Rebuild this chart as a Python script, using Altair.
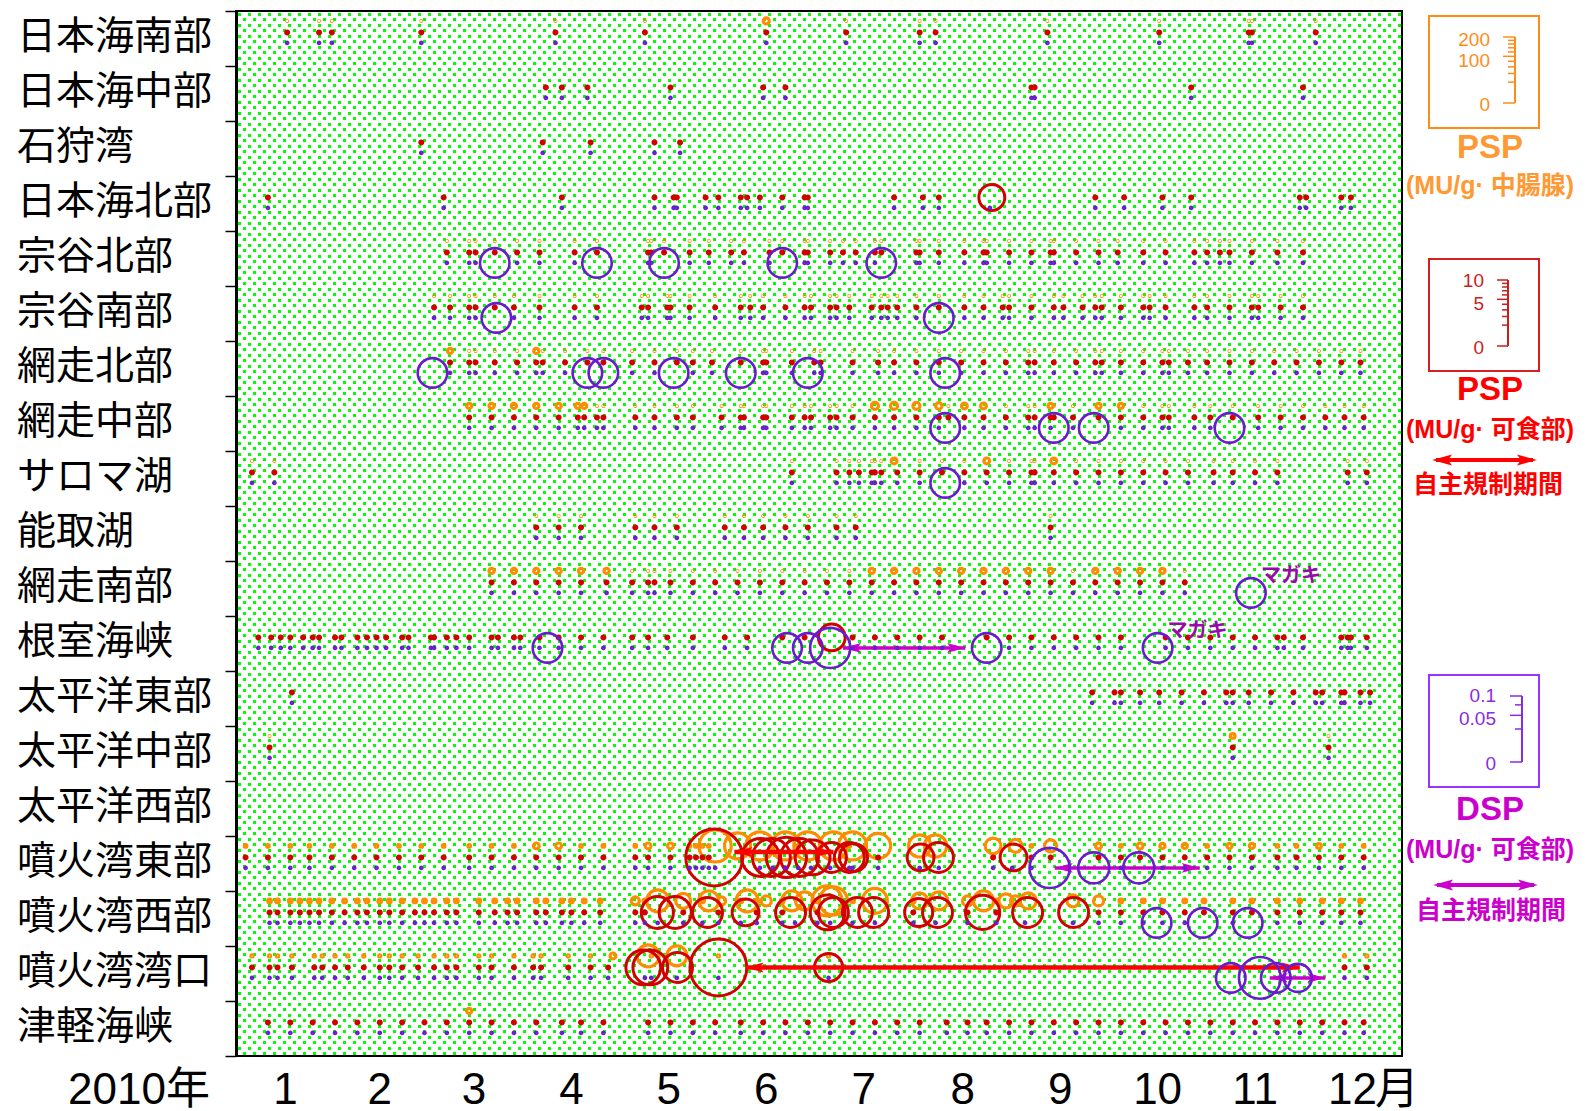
import altair as alt
import numpy as np
import pandas as pd

W, H = 1166, 1045

ROWS = ["日本海南部", "日本海中部", "石狩湾", "日本海北部", "宗谷北部", "宗谷南部",
        "網走北部", "網走中部", "サロマ湖", "能取湖", "網走南部", "根室海峡",
        "太平洋東部", "太平洋中部", "太平洋西部", "噴火湾東部", "噴火湾西部",
        "噴火湾湾口", "津軽海峡"]

MONTH_STARTS = [0, 31, 59, 90, 120, 151, 181, 212, 243, 273, 304, 334, 365]
MONTH_MIDS = [15.5, 45, 74.5, 105, 135.5, 166, 196.5, 227.5, 258, 288.5, 319, 349.5]
MONTH_LABELS = ["1", "2", "3", "4", "5", "6", "7", "8", "9", "10", "11", "12"]

# sampling days (day of year) per area row
SAMPLE_DAYS = {
    0: [16, 26, 30, 58, 100, 128, 166, 191, 214, 219, 254, 289, 317, 318, 338],
    1: [97, 102, 110, 136, 165, 172, 249, 250, 299, 334],
    2: [58, 96, 111, 131, 139],
    3: [10, 65, 102, 131, 137, 138, 147, 151, 158, 160, 164, 171, 178, 179, 206, 215, 220,
        236, 269, 278, 290, 299, 333, 335, 346, 349],
    4: [66, 73, 75, 81, 88, 95, 106, 113, 129, 130, 134, 142, 148, 155, 159, 167, 171, 178,
        179, 186, 190, 194, 200, 202, 213, 214, 220, 228, 234, 235, 242, 249, 255, 256, 263,
        270, 276, 284, 291, 300, 304, 308, 311, 318, 326, 334],
    5: [62, 67, 73, 75, 81, 87, 95, 106, 113, 127, 129, 135, 136, 142, 150, 158, 161, 165,
        172, 178, 180, 186, 188, 192, 199, 202, 204, 207, 213, 220, 228, 234, 240, 242, 249,
        256, 259, 265, 269, 271, 277, 284, 286, 291, 300, 304, 311, 318, 320, 327, 334],
    6: [67, 73, 75, 81, 88, 94, 96, 103, 110, 115, 124, 131, 138, 143, 149, 158, 165, 166,
        174, 181, 183, 193, 201, 206, 213, 220, 227, 234, 241, 248, 250, 256, 263, 269, 271,
        277, 284, 290, 292, 298, 304, 311, 318, 325, 332, 339, 346, 352],
    7: [73, 80, 87, 94, 101, 107, 109, 113, 115, 125, 131, 138, 143, 152, 158, 159, 165, 166,
        174, 178, 180, 186, 188, 193, 200, 206, 213, 220, 223, 228, 234, 241, 248, 250, 255,
        256, 262, 270, 277, 284, 290, 292, 300, 305, 312, 320, 327, 334, 341, 347, 353],
    8: [5, 12, 174, 188, 192, 195, 199, 200, 202, 207, 214, 221, 228, 235, 242, 249, 250, 256,
        263, 270, 277, 284, 291, 298, 306, 312, 319, 326, 348, 354],
    9: [94, 101, 108, 125, 131, 138, 153, 159, 165, 172, 179, 188, 194, 255],
    10: [80, 87, 94, 101, 108, 116, 124, 129, 131, 136, 143, 150, 157, 164, 171, 178, 185,
         192, 199, 206, 213, 220, 227, 234, 241, 248, 255, 262, 269, 276, 283, 290, 297],
    11: [7, 11, 14, 17, 21, 24, 26, 31, 33, 38, 41, 44, 47, 52, 54, 61, 62, 66, 69, 73, 80, 82,
         87, 89, 95, 101, 108, 115, 124, 129, 135, 143, 153, 160, 171, 178, 186, 193, 200, 207,
         214, 221, 235, 242, 249, 256, 263, 270, 277, 291, 298, 305, 312, 319, 326, 328, 334,
         346, 348, 349, 354],
    12: [17.5, 268, 275, 277, 283, 289, 296, 303, 310, 312, 317, 324, 331, 338, 340, 346, 347,
         352, 355],
    13: [10.5, 312, 342],
    14: [],
    15: [3, 10, 17, 23, 30, 37, 44, 51, 58, 65, 73, 80, 87, 94, 101, 108, 115, 125, 129, 136,
         142, 144, 146, 148, 150, 164, 168, 172, 176, 180, 186, 192, 193, 201, 214, 220, 237,
         243, 249, 255, 270, 277, 283, 290, 297, 304, 311, 318, 326, 332, 339, 346, 353],
    16: [10.5, 13, 17, 20, 23, 26, 30, 34, 38, 41, 45, 48, 52, 56, 59, 62, 66, 69, 76, 81, 85,
         88, 94, 97, 102, 105, 109, 114, 125, 128, 132, 140, 146, 151, 158, 163, 171, 175, 182,
         186, 193, 200, 212, 219, 229, 238, 247, 262, 270, 277, 284, 290, 297, 303, 312, 318,
         326, 333, 340, 346, 352],
    17: [5, 10.5, 13, 17.5, 24.5, 27, 31, 35, 40, 45, 48, 52, 57, 62, 66, 69, 76, 80, 87, 93,
         95.5, 104, 111, 116.5, 128, 130, 138, 151, 185.5, 347, 354],
    18: [10, 17, 24, 31, 38, 45, 52, 59, 66, 73, 80, 87, 94, 102, 108, 115, 129, 136, 143, 150,
         158, 165, 172, 179, 186, 193, 200, 207, 214, 222.5, 229, 235, 242, 249, 256, 263, 270,
         277, 284, 291, 298, 305, 312, 319, 326, 333, 340, 347, 353],
}

# small "below-scale" readings per row (MU/g)
ORANGE_BASE = {0: 0.03, 4: 0.03, 5: 0.03, 6: 0.03, 7: 0.03, 8: 0.03, 9: 0.03, 10: 0.03,
               13: 0.03, 15: 0.3, 16: 0.6, 17: 0.2}
RED_BASE = 0.02
PURPLE_BASE = 0.0001

# notable readings (row, day, value)
PSP_GLAND = [
    (0, 166, 1.6), (6, 67, 1.2), (6, 94, 1.2),
    (7, 73, 1.2), (7, 80, 1.2), (7, 87, 1.2), (7, 94, 1.2), (7, 101, 1.2), (7, 107, 1.2),
    (7, 109, 1.2), (7, 200, 2.2), (7, 206, 2.2), (7, 213, 2.2), (7, 220, 1.8), (7, 228, 1.5),
    (7, 234, 1.5), (7, 255, 1.2), (7, 270, 1.2), (7, 277, 1.2),
    (8, 206, 1.5), (8, 235, 1.5), (8, 256, 1.5),
    (10, 80, 1.2), (10, 87, 1.2), (10, 94, 1.2), (10, 101, 1.2), (10, 108, 1.2), (10, 116, 1.2),
    (10, 199, 1.2), (10, 206, 1.2), (10, 213, 1.2), (10, 220, 1.2), (10, 227, 1.2),
    (10, 234, 1.2), (10, 241, 1.2), (10, 248, 1.2), (10, 255, 1.2), (10, 269, 1.2),
    (10, 276, 1.2), (10, 283, 1.2), (10, 290, 1.2),
    (13, 312, 1.0), (18, 73, 1.2),
    (15, 94, 1.5), (15, 101, 1.5), (15, 129, 1.5), (15, 136, 1.5), (15, 150, 46),
    (15, 157, 30), (15, 164, 35), (15, 172, 35), (15, 179, 35), (15, 187, 35), (15, 193, 35),
    (15, 201, 28), (15, 214, 22), (15, 219, 22), (15, 237, 11), (15, 244, 7.5), (15, 255, 6.4),
    (15, 270, 1.6), (15, 283, 1.6), (15, 290, 1.2), (15, 297, 1.2), (15, 311, 1.2),
    (15, 318, 1.2), (15, 339, 1.0),
    (16, 125, 2.9), (16, 132, 21.6), (16, 140, 10), (16, 148, 17.8), (16, 152, 2.9),
    (16, 160, 21.6), (16, 166, 4.5), (16, 174, 17.8), (16, 178, 14.4), (16, 185, 40),
    (16, 187, 35), (16, 200, 27.8), (16, 214, 11.4), (16, 220, 14.4), (16, 229, 4.5),
    (16, 234, 17.8), (16, 241, 8.7), (16, 244, 4.5), (16, 248, 11.4), (16, 262, 6.4),
    (16, 270, 4.5),
    (17, 118, 1.5), (17, 129, 21.6), (17, 138, 17.8),
]
PSP_EDIBLE = [
    (3, 236.6, 1.5), (11, 186.5, 1.6),
    (15, 149.7, 7.2), (15, 164.2, 3.2), (15, 167.6, 3.2), (15, 172.3, 3.6), (15, 176.4, 3.2),
    (15, 180.5, 2.7), (15, 186.4, 2.0), (15, 192, 2.0), (15, 193.3, 1.75), (15, 214.3, 1.6),
    (15, 219.9, 2.0), (15, 243.4, 1.6),
    (16, 131.9, 2.3), (16, 137.5, 2.3), (16, 147.6, 2.0), (16, 159.5, 1.6), (16, 173.6, 2.0),
    (16, 185.2, 2.7), (16, 187, 2.0), (16, 194.5, 2.0), (16, 199.6, 2.0), (16, 213.7, 1.75),
    (16, 219.6, 2.0), (16, 233.7, 2.6), (16, 247.8, 2.0), (16, 262.2, 2.0),
    (17, 127.5, 2.7), (17, 129.7, 2.7), (17, 138.2, 2.0), (17, 151, 7.2), (17, 185.5, 1.75),
]
DSP = [
    (4, 81, 0.02), (4, 113, 0.02), (4, 134, 0.02), (4, 171, 0.02), (4, 202, 0.02),
    (5, 81.5, 0.02), (5, 220, 0.02),
    (6, 61.5, 0.02), (6, 110, 0.02), (6, 115, 0.02), (6, 137, 0.02), (6, 158, 0.02),
    (6, 179, 0.02), (6, 222, 0.02),
    (7, 222, 0.02), (7, 256, 0.02), (7, 268.5, 0.02), (7, 311, 0.02),
    (8, 222, 0.02), (10, 317.7, 0.02),
    (11, 97.5, 0.02), (11, 172.5, 0.02), (11, 179, 0.02), (11, 186, 0.037), (11, 235, 0.02),
    (11, 288.5, 0.02),
    (15, 254.7, 0.037), (15, 268.5, 0.022), (15, 282.6, 0.022),
    (16, 288.2, 0.02), (16, 302.6, 0.02), (16, 316.7, 0.02),
    (17, 311.4, 0.02), (17, 320.5, 0.04), (17, 325.5, 0.02), (17, 332.4, 0.018),
]

# regulation periods
ARROW_ROW = [11, 15, 15, 17, 17]
ARROW_LEVEL = [0.58, 0.58, 0.29, 0.39, 0.58]
ARROW_START = [190, 256.3, 156, 159.5, 323.6]
ARROW_END = [228.3, 301.7, 187, 333, 341]
ARROW_KIND = ["DSP", "DSP", "PSP", "PSP", "DSP"]

MAGAKI_ROW = [10, 11]
MAGAKI_DAY = [317.7, 288.5]

ORANGE, RED, PURPLE = "#FF8C00", "#D40000", "#6A1ACF"
ARROW_RED, MAGENTA = "#FF0000", "#CC00CC"
Y_ORANGE, Y_RED, Y_PURPLE = 0.18, 0.39, 0.58


def build(base_fn, notable, yoff):
    recs = []
    for r, days in SAMPLE_DAYS.items():
        b = base_fn(r)
        if b is None:
            continue
        for d in days:
            recs.append({"row": r, "day": float(d), "v": b, "used": False})
    for r, d, v in notable:
        best = None
        for rec in recs:
            if rec["row"] == r and not rec["used"] and abs(rec["day"] - d) <= 1.6:
                if best is None or abs(rec["day"] - d) < abs(best["day"] - d):
                    best = rec
        if best is not None:
            best["day"], best["v"], best["used"] = float(d), v, True
        else:
            recs.append({"row": r, "day": float(d), "v": v, "used": True})
    df = pd.DataFrame(recs)
    df["y"] = df["row"] + yoff
    return df.drop(columns=["used"]).sort_values("v", ascending=False)


df_or = build(lambda r: ORANGE_BASE.get(r), PSP_GLAND, Y_ORANGE)
df_red = build(lambda r: RED_BASE, PSP_EDIBLE, Y_RED)
df_pu = build(lambda r: PURPLE_BASE, DSP, Y_PURPLE)

xs = alt.Scale(domain=[0, 365], nice=False, zero=False)
ys = alt.Scale(domain=[0, 19], reverse=True, nice=False, zero=False)

x_axis = alt.Axis(values=MONTH_STARTS, labels=False, ticks=True, tickSize=12, tickColor="black",
                  tickWidth=1.5, domainColor="black", domainWidth=3, grid=True,
                  gridColor="black", gridDash=[4, 7], gridWidth=1.3, title=None)
y_axis = alt.Axis(values=list(range(20)), labels=False, tickSize=11, tickColor="black",
                  tickWidth=1.5, domainColor="black", domainWidth=3, grid=False, title=None)

# dotted green background texture (pixel columns every 5px, pixel-aligned)
tex_px = np.arange(3.5, W, 5)
tex = pd.DataFrame({"d": tex_px * 365.0 / W, "k": np.arange(len(tex_px)) % 2})
tex_a = alt.Chart(tex).transform_filter("datum.k == 0").mark_rule(
    color="#00ff00", strokeWidth=3, strokeDash=[3, 8], strokeDashOffset=9
).encode(x=alt.X("d:Q", scale=xs, axis=x_axis), y=alt.value(0), y2=alt.value(H))
tex_b = alt.Chart(tex).transform_filter("datum.k == 1").mark_rule(
    color="#00ff00", strokeWidth=3, strokeDash=[3, 8], strokeDashOffset=4
).encode(x=alt.X("d:Q", scale=xs, axis=None), y=alt.value(0), y2=alt.value(H))


def circles(df, color, sw, vmax, dmax, axis=None):
    return alt.Chart(df).mark_point(shape="circle", filled=False, color=color,
                                    strokeWidth=sw, opacity=1).encode(
        x=alt.X("day:Q", scale=xs, axis=None),
        y=alt.Y("y:Q", scale=ys, axis=axis),
        size=alt.Size("v:Q", scale=alt.Scale(domain=[0, vmax], range=[0, dmax * dmax]),
                      legend=None),
    )


c_or = circles(df_or, ORANGE, 3.2, 200, 67)
c_red = circles(df_red, RED, 3, 10, 67, axis=y_axis)
c_pu = circles(df_pu, PURPLE, 2.6, 0.1, 66)

LEFT_HEAD = "M0,0 L2,-0.55 L1.6,0 L2,0.55 Z"
RIGHT_HEAD = "M0,0 L-2,-0.55 L-1.6,0 L-2,0.55 Z"

arr = pd.DataFrame({"y": np.array(ARROW_ROW) + np.array(ARROW_LEVEL),
                    "s": ARROW_START, "e": ARROW_END,
                    "col": [ARROW_RED if k == "PSP" else MAGENTA for k in ARROW_KIND],
                    "w": [4.5 if k == "PSP" else 3.5 for k in ARROW_KIND]})
arr_line = alt.Chart(arr).mark_rule().encode(
    x=alt.X("s:Q", scale=xs, axis=None), x2="e:Q", y=alt.Y("y:Q", scale=ys, axis=None),
    color=alt.Color("col:N", scale=None), strokeWidth=alt.StrokeWidth("w:Q", scale=None))
arr_l = alt.Chart(arr).mark_point(shape=LEFT_HEAD, filled=True, size=324, opacity=1).encode(
    x=alt.X("s:Q", scale=xs, axis=None), y=alt.Y("y:Q", scale=ys, axis=None),
    color=alt.Color("col:N", scale=None))
arr_r = alt.Chart(arr).mark_point(shape=RIGHT_HEAD, filled=True, size=324, opacity=1).encode(
    x=alt.X("e:Q", scale=xs, axis=None), y=alt.Y("y:Q", scale=ys, axis=None),
    color=alt.Color("col:N", scale=None))

rows_df = pd.DataFrame({"name": ROWS, "yc": np.arange(len(ROWS)) + 0.5})
row_labels = alt.Chart(rows_df).mark_text(
    align="left", baseline="middle", fontSize=39, font="Noto Sans CJK JP", color="black", dy=-2
).encode(x=alt.value(-219), y=alt.Y("yc:Q", scale=ys, axis=None), text="name:N")

mon_df = pd.DataFrame({"mid": MONTH_MIDS, "lab": MONTH_LABELS})
LATIN = "Liberation Sans, Arial, Noto Sans CJK JP"
month_labels = alt.Chart(mon_df).mark_text(
    fontSize=44, font=LATIN, baseline="middle", color="black"
).encode(x=alt.X("mid:Q", scale=xs, axis=None), y=alt.value(H + 35), text="lab:N")

mg_df = pd.DataFrame({"day": MAGAKI_DAY, "y": np.array(MAGAKI_ROW) + Y_PURPLE})
magaki = alt.Chart(mg_df).mark_text(
    text="マガキ", fontSize=20, fontWeight="bold", font="Noto Sans CJK JP", color="#9A0AA8",
    dx=40, dy=-17
).encode(x=alt.X("day:Q", scale=xs, axis=None), y=alt.Y("y:Q", scale=ys, axis=None))

ONE = pd.DataFrame({"k": [0]})


def txt(t, x, y, size, color, bold=True, font=LATIN, align="center"):
    return alt.Chart(ONE).mark_text(
        text=t, fontSize=size, color=color, fontWeight="bold" if bold else "normal",
        font=font, align=align, baseline="middle"
    ).encode(x=alt.value(x), y=alt.value(y))


def box(x0, x1, y0, y1, color):
    return alt.Chart(ONE).mark_rect(fillOpacity=0, stroke=color, strokeWidth=2).encode(
        x=alt.value(x0), x2=alt.value(x1), y=alt.value(y0), y2=alt.value(y1))


def legend_arrow(x0, x1, y, color):
    return [
        alt.Chart(ONE).mark_rule(color=color, strokeWidth=4).encode(
            x=alt.value(x0 + 4), x2=alt.value(x1 - 4), y=alt.value(y)),
        alt.Chart(ONE).mark_point(shape=LEFT_HEAD, filled=True, size=400, color=color,
                                  opacity=1).encode(x=alt.value(x0), y=alt.value(y)),
        alt.Chart(ONE).mark_point(shape=RIGHT_HEAD, filled=True, size=400, color=color,
                                  opacity=1).encode(x=alt.value(x1), y=alt.value(y)),
    ]


def ruler(vmax, y0, y1, x_line, maj_len, min_len, color, majors, minors, labels, x_lab, dys):
    sc = alt.Scale(type="sqrt", domain=[0, vmax], range=[y0, y1], nice=False)
    line = alt.Chart(pd.DataFrame({"lo": [0], "hi": [vmax]})).mark_rule(
        color=color, strokeWidth=2).encode(
        x=alt.value(x_line), y=alt.Y("lo:Q", scale=sc, axis=None), y2="hi:Q")
    maj = alt.Chart(pd.DataFrame({"t": majors})).mark_rule(color=color, strokeWidth=1.5).encode(
        x=alt.value(x_line - maj_len), x2=alt.value(x_line),
        y=alt.Y("t:Q", scale=sc, axis=None))
    mnr = alt.Chart(pd.DataFrame({"t": minors})).mark_rule(color=color, strokeWidth=1.5).encode(
        x=alt.value(x_line - min_len), x2=alt.value(x_line),
        y=alt.Y("t:Q", scale=sc, axis=None))
    labs = []
    for t, lab, dy in zip(majors, labels, dys):
        labs.append(alt.Chart(pd.DataFrame({"t": [t], "lab": [lab]})).mark_text(
            align="right", baseline="middle", fontSize=19, font=LATIN, color=color, dy=dy
        ).encode(x=alt.value(x_lab), y=alt.Y("t:Q", scale=sc, axis=None), text="lab:N"))
    return [line, maj, mnr] + labs


OR_TXT, RED_TXT = "#FF9933", "#FF0000"
legend = []
legend += [box(1193, 1303, 5, 117, "#FF8C1A")]
legend += ruler(200, 92, 26, 1279, 12, 7, "#FF8C1A", [0, 100, 200],
                [20, 40, 60, 80, 120, 140, 160, 180], ["0", "100", "200"], 1254, [2, 5, 3])
legend += [txt("PSP", 1254, 137, 33, OR_TXT), txt("(MU/g· 中腸腺)", 1254, 175, 25, OR_TXT)]
legend += [box(1193, 1303, 248, 360, "#D42020")]
legend += ruler(10, 335, 269, 1272, 11, 6, "#C81E1E", [0, 5, 10],
                [1, 2, 3, 4, 6, 7, 8, 9], ["0", "5", "10"], 1248, [2, 5, 1])
legend += [txt("PSP", 1254, 379, 33, RED_TXT), txt("(MU/g· 可食部)", 1254, 419, 25, RED_TXT)]
legend += legend_arrow(1196, 1301, 449, RED_TXT)
legend += [txt("自主規制期間", 1252, 474, 25, RED_TXT)]
legend += [box(1193, 1303, 664, 776, "#9933FF")]
legend += ruler(0.1, 751, 685, 1286, 12, 7, "#8A2BE2", [0, 0.05, 0.1], [0.025, 0.075],
                ["0", "0.05", "0.1"], 1260, [2, 4, 0])
legend += [txt("DSP", 1254, 799, 33, MAGENTA), txt("(MU/g· 可食部)", 1254, 839, 25, MAGENTA)]
legend += legend_arrow(1197, 1302, 874, MAGENTA)
legend += [txt("自主規制期間", 1255, 900, 25, MAGENTA)]

extra = [txt("2010年", -97, H + 35, 44, "black", bold=False),
         txt("月", 1161, H + 35, 44, "black", bold=False)]

chart = alt.layer(
    tex_a, tex_b, c_or, c_red, arr_line, arr_l, arr_r, c_pu, magaki,
    row_labels, month_labels, *extra, *legend
).resolve_scale(y="independent", size="independent").properties(
    width=W, height=H, padding={"left": 9, "top": 1, "right": 2, "bottom": 0},
    background="white"
).configure_view(stroke="black", strokeWidth=2)

chart.save("out.html", embed_options={"renderer": "svg", "actions": False})
